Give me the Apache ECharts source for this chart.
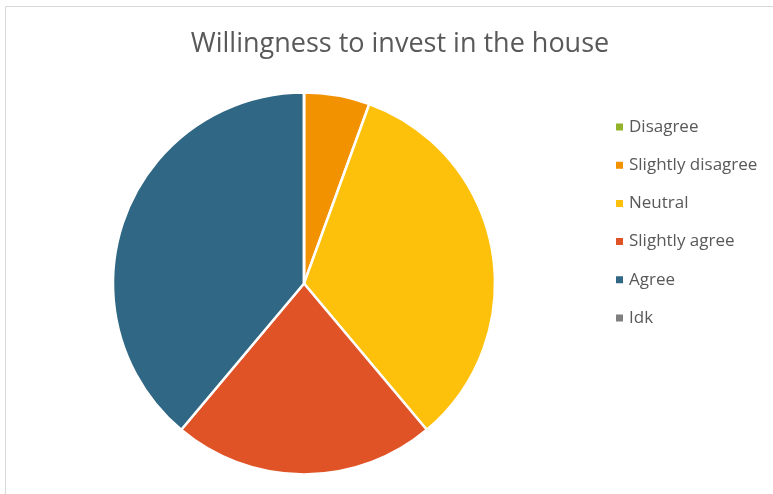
<!DOCTYPE html>
<html>
<head>
<meta charset="utf-8">
<script src="https://cdn.jsdelivr.net/npm/echarts@6/dist/echarts.min.js"></script>
<style>
  html, body { margin: 0; padding: 0; background: #ffffff; }
  #chart { width: 773px; height: 494px; }
</style>
</head>
<body>
<div id="chart"></div>
<script>
// Survey responses
const categories = ['Disagree', 'Slightly disagree', 'Neutral', 'Slightly agree', 'Agree', 'Idk'];
const counts = [0, 1, 6, 4, 7, 0];
const colors = ['#92B32A', '#F39200', '#FDC10B', '#E05327', '#2F6784', '#7F7F7F'];

const FONT = '"Open Sans", "Liberation Sans", sans-serif';

const chart = echarts.init(document.getElementById('chart'), null, { renderer: 'canvas' });

chart.setOption({
  animation: false,
  backgroundColor: '#ffffff',
  color: colors,
  title: {
    text: 'Willingness to invest in the house',
    left: 395,
    top: 26,
    textAlign: 'center',
    textStyle: { fontFamily: FONT, fontSize: 27, fontWeight: 'normal', color: '#595959' }
  },
  legend: {
    orient: 'vertical',
    left: 609,
    top: 113,
    icon: 'rect',
    itemWidth: 9,
    itemHeight: 9,
    itemGap: 20.2,
    data: categories,
    textStyle: { fontFamily: FONT, fontSize: 17, color: '#595959', lineHeight: 18 }
  },
  graphic: [{
    type: 'rect',
    shape: { x: 5.5, y: 6.5, width: 800, height: 520 },
    style: { fill: 'none', stroke: '#d9d9d9', lineWidth: 1 },
    silent: true
  }],
  series: [{
    type: 'pie',
    center: [304, 283.5],
    radius: [0, 191],
    startAngle: 90,
    clockwise: true,
    label: { show: false },
    labelLine: { show: false },
    emphasis: { disabled: true },
    itemStyle: { borderColor: '#ffffff', borderWidth: 2.5 },
    data: categories.map((name, i) => ({ name, value: counts[i] }))
  }]
});
</script>
</body>
</html>
